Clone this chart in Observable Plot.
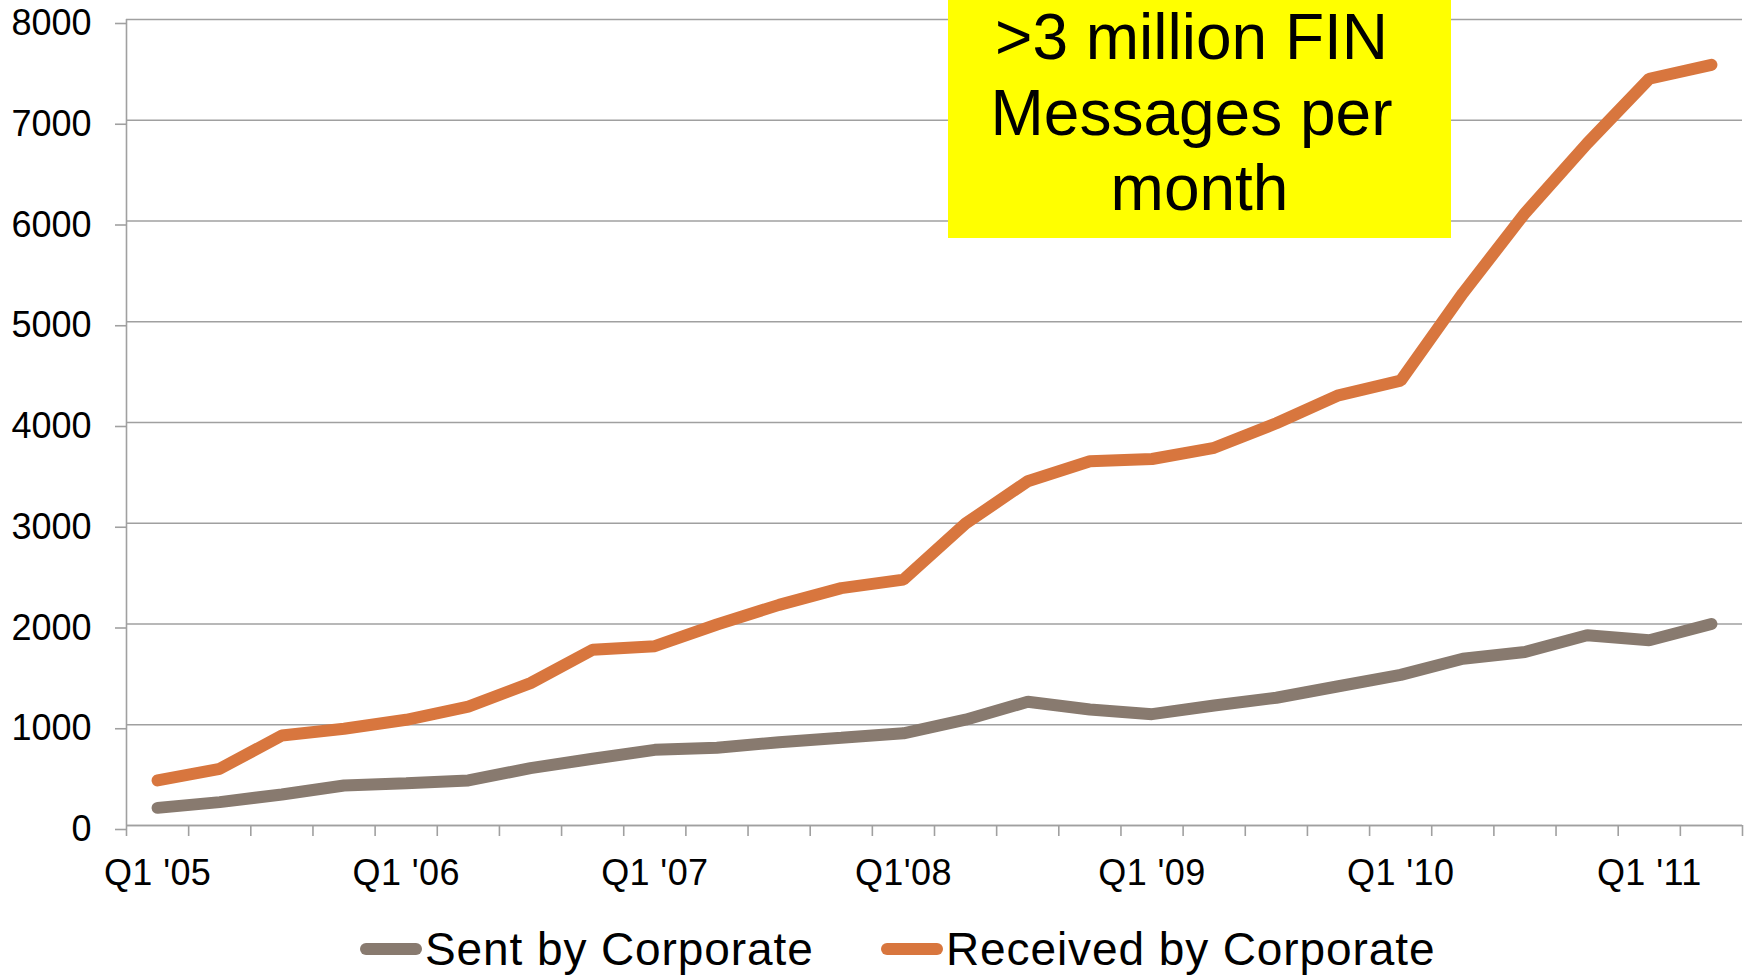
<!DOCTYPE html>
<html>
<head>
<meta charset="utf-8">
<script src="https://cdn.jsdelivr.net/npm/d3@7"></script>
<script src="https://cdn.jsdelivr.net/npm/@observablehq/plot@0.6"></script>
<style>
  html, body { margin: 0; padding: 0; background: #fff; }
  body { font-family: "Liberation Sans", Arial, sans-serif; width: 1749px; height: 980px; overflow: hidden; position: relative; }
  #chart svg { display: block; }
  #chart svg g[aria-label="x-axis tick label"] text { letter-spacing: 0.4px; }
  #note {
    position: absolute; left: 948px; top: 0; width: 503px; height: 238px;
    background: #FFFF00; color: #000; text-align: center;
    font-size: 64px; line-height: 75.5px; padding-top: 0px; box-sizing: border-box;
  }
  #note span { position: relative; }
  #note .l1, #note .l2 { left: -8px; }
  #legend { display: flex; margin-top: 26px; padding-left: 360px; height: 46px; }
  .item { display: flex; align-items: center; font-size: 46px; line-height: 46px; color: #000; letter-spacing: 0.9px; }
  .item:first-child { width: 521px; }
  .sw { display: inline-block; width: 62px; height: 12px; border-radius: 6px; margin-right: 3px; }
</style>
</head>
<body>
<div id="chart"></div>
<div id="legend"></div>
<div id="note"><span class="l1">&gt;3 million FIN</span><br><span class="l2">Messages per</span><br><span class="l3">month</span></div>
<script>
const quarters = [
  "Q1 '05","Q2 '05","Q3 '05","Q4 '05",
  "Q1 '06","Q2 '06","Q3 '06","Q4 '06",
  "Q1 '07","Q2 '07","Q3 '07","Q4 '07",
  "Q1'08","Q2'08","Q3'08","Q4'08",
  "Q1 '09","Q2 '09","Q3 '09","Q4 '09",
  "Q1 '10","Q2 '10","Q3 '10","Q4 '10",
  "Q1 '11","Q2 '11"
];
const sentByCorporate = [175, 232, 308, 397, 420, 447, 569, 662, 751, 771, 827, 870, 915, 1050, 1228, 1152, 1105, 1191, 1268, 1382, 1495, 1655, 1722, 1888, 1838, 2000];
const receivedByCorporate = [447, 563, 893, 960, 1049, 1181, 1413, 1744, 1780, 1995, 2190, 2356, 2440, 2997, 3417, 3616, 3638, 3749, 3993, 4270, 4415, 5282, 6078, 6769, 7412, 7550];
const seriesNames = ["Sent by Corporate", "Received by Corporate"];
const seriesColors = ["#887A6F", "#D8763E"];
const yTicks = [0, 1000, 2000, 3000, 4000, 5000, 6000, 7000, 8000];

const rows = [];
quarters.forEach((q, i) => {
  rows.push({i, quarter: q, series: seriesNames[0], value: sentByCorporate[i]});
});
quarters.forEach((q, i) => {
  rows.push({i, quarter: q, series: seriesNames[1], value: receivedByCorporate[i]});
});
const labelTicks = quarters.map((q, i) => i).filter(i => quarters[i].startsWith("Q1"));
const boundaryTicks = d3.range(quarters.length + 1).map(k => k - 0.5);

const gridColor = "#A0A0A0";

const chart = Plot.plot({
  width: 1749,
  height: 900,
  marginTop: 19,
  marginBottom: 75,
  marginLeft: 126,
  marginRight: 7,
  style: { fontFamily: "'Liberation Sans', Arial, sans-serif", background: "#fff" },
  x: { type: "linear", domain: [-0.5, quarters.length - 0.5] },
  y: { domain: [0, 8000] },
  color: { domain: seriesNames, range: seriesColors },
  marks: [
    Plot.gridY(yTicks, { stroke: gridColor, strokeOpacity: 1, strokeWidth: 1.6 }),
    Plot.axisY(yTicks, { tickSize: 11, tickPadding: 24, fontSize: 36, dy: 4, color: "#000", stroke: gridColor, strokeWidth: 1.6, label: null, tickFormat: d => String(d) }),
    Plot.ruleX([-0.5], { stroke: gridColor, strokeWidth: 1.6 }),
    Plot.ruleY([0], { stroke: gridColor, strokeWidth: 1.6 }),
    Plot.axisX(boundaryTicks, { tickSize: 11, stroke: gridColor, strokeWidth: 1.6, tickFormat: () => "", label: null }),
    Plot.axisX(labelTicks, { tickSize: 0, tickPadding: 34, fontSize: 36, color: "#000", tickFormat: i => quarters[i], label: null }),
    Plot.line(rows, { x: "i", y: "value", z: "series", stroke: "series", strokeWidth: 12, strokeLinecap: "round", strokeLinejoin: "miter" })
  ]
});
document.getElementById("chart").appendChild(chart);

const legend = document.getElementById("legend");
seriesNames.forEach((name, k) => {
  const item = document.createElement("div");
  item.className = "item";
  const sw = document.createElement("span");
  sw.className = "sw";
  sw.style.background = seriesColors[k];
  const t = document.createElement("span");
  t.textContent = name;
  item.appendChild(sw);
  item.appendChild(t);
  legend.appendChild(item);
});
</script>
</body>
</html>
